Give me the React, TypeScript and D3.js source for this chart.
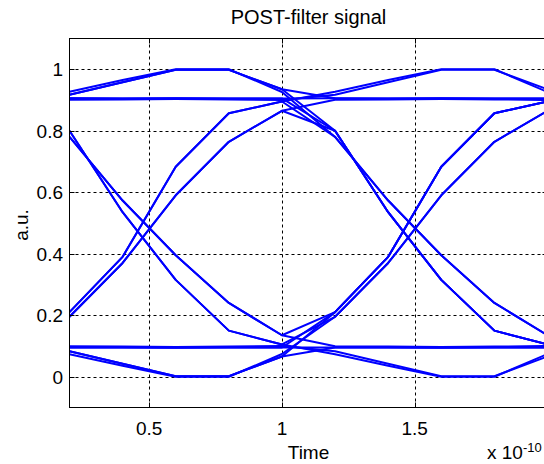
import React from "react";
import * as d3 from "d3";

const W = 544;
const H = 464;

// axes limits and ticks (time axis is in units of 1e-10 s)
const timeDomain: [number, number] = [0.2, 2.0];
const levelDomain: [number, number] = [-0.1, 1.1];
const timeTicks = [0.5, 1, 1.5];
const levelTicks = [0, 0.2, 0.4, 0.6, 0.8, 1];

// start time of each symbol window and the sample offsets inside a window
const symbolStarts = [0.2, 1.2];
const sampleOffsets = [0, 0.2, 0.4, 0.6, 0.8];

// filtered waveform pieces (a.u.), one value per sample offset
const topA = [0.917, 0.958, 0.998, 0.998, 0.935];
const topB = [0.927, 0.965, 1.0, 1.0, 0.926];
const highA = [0.906, 0.905, 0.906, 0.905, 0.905];
const highB = [0.901, 0.902, 0.903, 0.902, 0.9];
const fallA = [0.8, 0.535, 0.315, 0.15, 0.105];
const fallB = [0.78, 0.573, 0.395, 0.24, 0.135];
const riseA = [0.21, 0.39, 0.683, 0.857, 0.895];
const riseB = [0.195, 0.37, 0.59, 0.764, 0.865];
const lowA = [0.095, 0.095, 0.094, 0.095, 0.095];
const lowB = [0.099, 0.098, 0.097, 0.098, 0.1];
const botA = [0.083, 0.042, 0.002, 0.002, 0.066];
const botB = [0.073, 0.036, 0.0, 0.0, 0.074];

const pieces: Record<string, number[]> = {
  topA, topB, highA, highB, fallA, fallB, riseA, riseB, lowA, lowB, botA, botB,
};

// each trace spans two symbol windows: [first piece, second piece]
const traces: [string, string][] = [
  ["topA", "fallA"],
  ["topB", "fallB"],
  ["highA", "highA"],
  ["highB", "topA"],
  ["riseA", "topB"],
  ["riseB", "highB"],
  ["riseA", "fallB"],
  ["riseB", "fallA"],
  ["topA", "highA"],
  ["highA", "fallA"],
  ["botA", "riseA"],
  ["botB", "riseB"],
  ["lowA", "lowA"],
  ["lowB", "botA"],
  ["fallA", "botB"],
  ["fallB", "lowB"],
  ["fallA", "riseB"],
  ["fallB", "riseA"],
  ["botA", "lowA"],
  ["lowA", "riseA"],
];

const FONT = "'Liberation Sans', Arial, Helvetica, sans-serif";

export default function App() {
  const left = 69.5;
  const right = 547.5;
  const top = 38.5;
  const bottom = 407.5;

  const x = d3.scaleLinear().domain(timeDomain).range([left, right]);
  const y = d3.scaleLinear().domain(levelDomain).range([bottom, top]);

  const line = d3
    .line<[number, number]>()
    .x((d) => x(d[0]))
    .y((d) => y(d[1]));

  const tracePoints = traces.map((names) =>
    names.flatMap((name, w) =>
      pieces[name].map((v, i) => [symbolStarts[w] + sampleOffsets[i], v] as [number, number])
    )
  );

  const tickLen = 5;

  return (
    <div style={{ position: "absolute", left: 0, top: 0, width: W, height: H, overflow: "hidden", background: "#fff" }}>
      <svg width={W} height={H} style={{ display: "block" }} fontFamily={FONT}>
        <rect x={0} y={0} width={W} height={H} fill="#fff" />
        <defs>
          <clipPath id="plot-area">
            <rect x={left} y={top} width={right - left} height={bottom - top} />
          </clipPath>
        </defs>

        {/* grid */}
        <g stroke="#000" strokeWidth={1} strokeDasharray="3,3" fill="none">
          {timeTicks.map((t) => (
            <line key={"gx" + t} x1={Math.round(x(t)) + 0.5} x2={Math.round(x(t)) + 0.5} y1={top} y2={bottom} />
          ))}
          {levelTicks.map((v) => (
            <line key={"gy" + v} x1={left} x2={right} y1={Math.round(y(v)) + 0.5} y2={Math.round(y(v)) + 0.5} />
          ))}
        </g>

        {/* eye traces */}
        <g clipPath="url(#plot-area)" fill="none" stroke="#0000ff" strokeWidth={2} strokeLinejoin="round">
          {tracePoints.map((pts, i) => (
            <path key={i} d={line(pts) || ""} />
          ))}
        </g>

        {/* ticks */}
        <g stroke="#000" strokeWidth={1}>
          {timeTicks.map((t) => {
            const px = Math.round(x(t)) + 0.5;
            return (
              <g key={"tx" + t}>
                <line x1={px} x2={px} y1={bottom} y2={bottom - tickLen} />
                <line x1={px} x2={px} y1={top} y2={top + tickLen} />
              </g>
            );
          })}
          {levelTicks.map((v) => {
            const py = Math.round(y(v)) + 0.5;
            return (
              <g key={"ty" + v}>
                <line x1={left} x2={left + tickLen} y1={py} y2={py} />
                <line x1={right} x2={right - tickLen} y1={py} y2={py} />
              </g>
            );
          })}
        </g>

        {/* axes box */}
        <rect x={left} y={top} width={right - left} height={bottom - top} fill="none" stroke="#000" strokeWidth={1} />

        {/* tick labels */}
        <g fontSize={19} fill="#000">
          {timeTicks.map((t) => (
            <text key={"lx" + t} x={x(t)} y={435} textAnchor="middle">
              {d3.format("")(t)}
            </text>
          ))}
          {levelTicks.map((v) => (
            <text key={"ly" + v} x={63} y={y(v) + 6.8} textAnchor="end">
              {d3.format("")(v)}
            </text>
          ))}
        </g>

        {/* exponent of the time axis */}
        <text x={487} y={459} fontSize={19} fill="#000">
          x 10
          <tspan dy={-7} fontSize={13}>-10</tspan>
        </text>

        {/* labels and title */}
        <text x={(left + right) / 2} y={459} textAnchor="middle" fontSize={19} fill="#000">
          Time
        </text>
        <text
          transform={`translate(28, ${(top + bottom) / 2 + 2}) rotate(-90)`}
          textAnchor="middle"
          fontSize={19}
          fill="#000"
        >
          a.u.
        </text>
        <text x={(left + right) / 2} y={24} textAnchor="middle" fontSize={20} fill="#000">
          POST-filter signal
        </text>
      </svg>
    </div>
  );
}
